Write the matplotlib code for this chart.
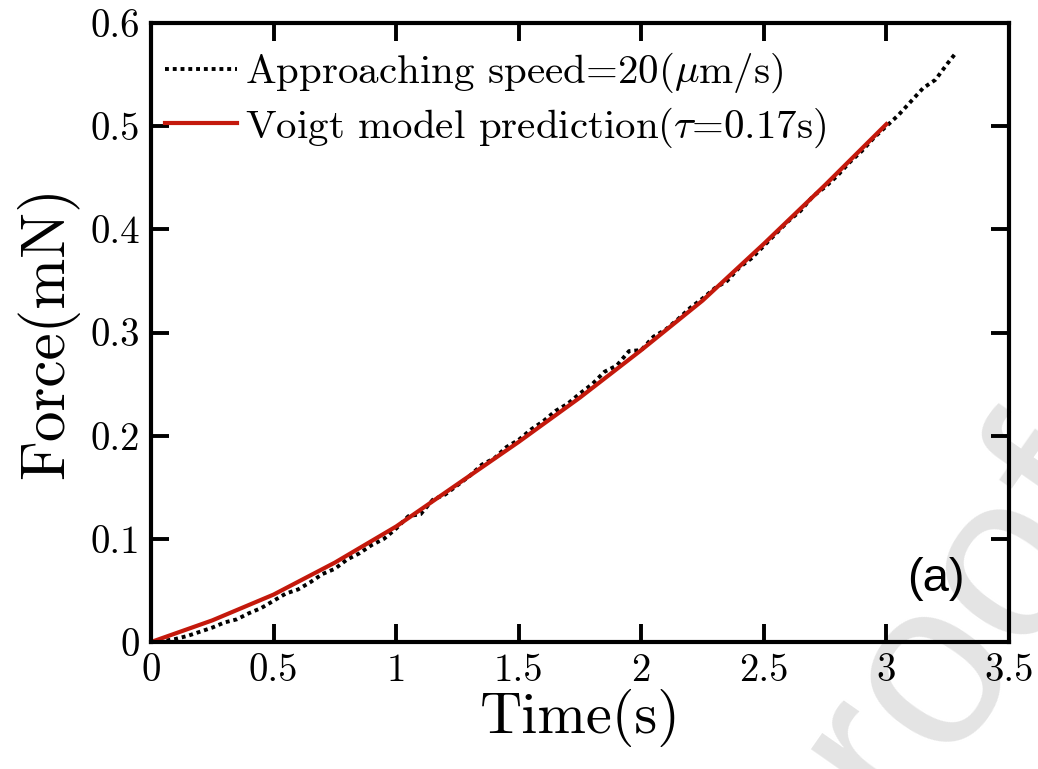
import matplotlib
matplotlib.use("Agg")
import matplotlib.pyplot as plt

t_meas = [0.00, 0.05, 0.10, 0.15, 0.20, 0.25, 0.30, 0.35, 0.40, 0.45,
          0.50, 0.55, 0.60, 0.65, 0.70, 0.75, 0.80, 0.85, 0.90, 0.95,
          1.00, 1.05, 1.10, 1.15, 1.20, 1.25, 1.30, 1.35, 1.40, 1.45,
          1.50, 1.55, 1.60, 1.65, 1.70, 1.75, 1.80, 1.85, 1.90, 1.95,
          2.00, 2.05, 2.10, 2.15, 2.20, 2.25, 2.30, 2.35, 2.40, 2.45,
          2.50, 2.55, 2.60, 2.65, 2.70, 2.75, 2.80, 2.85, 2.90, 2.95,
          3.00, 3.05, 3.10, 3.15, 3.20, 3.25, 3.28]
f_meas = [0.000, 0.001, 0.003, 0.006, 0.010, 0.014, 0.019, 0.022, 0.028, 0.033,
          0.040, 0.047, 0.051, 0.058, 0.066, 0.071, 0.080, 0.086, 0.094, 0.100,
          0.110, 0.122, 0.124, 0.138, 0.143, 0.152, 0.161, 0.172, 0.178, 0.189,
          0.196, 0.206, 0.214, 0.224, 0.231, 0.241, 0.250, 0.262, 0.268, 0.282,
          0.283, 0.296, 0.303, 0.313, 0.324, 0.333, 0.343, 0.350, 0.363, 0.372,
          0.384, 0.396, 0.408, 0.418, 0.432, 0.441, 0.452, 0.465, 0.476, 0.489,
          0.500, 0.511, 0.524, 0.537, 0.545, 0.561, 0.570]

t_fit = [0.0, 0.25, 0.5, 0.75, 1.0, 1.25, 1.5, 1.75, 2.0, 2.25, 2.5, 2.75, 3.0]
f_fit = [0.0, 0.021, 0.046, 0.077, 0.112, 0.153, 0.194, 0.237, 0.283, 0.331,
         0.386, 0.443, 0.502]

x_ticks = [0, 0.5, 1, 1.5, 2, 2.5, 3, 3.5]
x_labels = ["0", "0.5", "1", "1.5", "2", "2.5", "3", "3.5"]
y_ticks = [0, 0.1, 0.2, 0.3, 0.4, 0.5, 0.6]
y_labels = ["0", "0.1", "0.2", "0.3", "0.4", "0.5", "0.6"]

plt.rcParams["font.family"] = "serif"
plt.rcParams["font.serif"] = ["cmr10"]
plt.rcParams["mathtext.fontset"] = "cm"
plt.rcParams["axes.unicode_minus"] = False

fig = plt.figure(figsize=(10.38, 7.69), dpi=100)

# faint watermark behind the axes
fig.text(0.894, 0.125, "proof", fontsize=170, color="#e4e4e4", rotation=55,
         ha="center", va="center", family="Liberation Sans", zorder=-1)

ax = fig.add_axes([0.1455, 0.1651, 0.8265, 0.8049])
ax.patch.set_alpha(0)

ax.plot(t_meas, f_meas, color="black", linestyle=(0, (1, 1)), linewidth=2.8,
        label=r"Approaching speed=20($\mu$m/s)")
ax.plot(t_fit, f_fit, color="#c4190c", linewidth=3,
        label=r"Voigt model prediction($\tau$=0.17s)")

ax.set_xlim(0, 3.5)
ax.set_ylim(0, 0.6)
ax.set_xticks(x_ticks, x_labels)
ax.set_yticks(y_ticks, y_labels)
ax.tick_params(direction="in", length=13, width=2.8, labelsize=28,
               top=True, right=True, pad=8)
for s in ax.spines.values():
    s.set_linewidth(3)

ax.set_xlabel("Time(s)", fontsize=42, labelpad=0)
ax.set_ylabel("Force(mN)", fontsize=44, labelpad=8)

ax.legend(loc="upper left", frameon=False, fontsize=29.5, handlelength=1.75,
          handletextpad=0.2, borderaxespad=0.1, labelspacing=0.25,
          borderpad=0.35, bbox_to_anchor=(-0.005, 0.985))

ax.text(0.915, 0.102, "(a)", transform=ax.transAxes, fontsize=34,
        family="Liberation Sans", ha="center", va="center")

fig.savefig("out.png", dpi=100)
